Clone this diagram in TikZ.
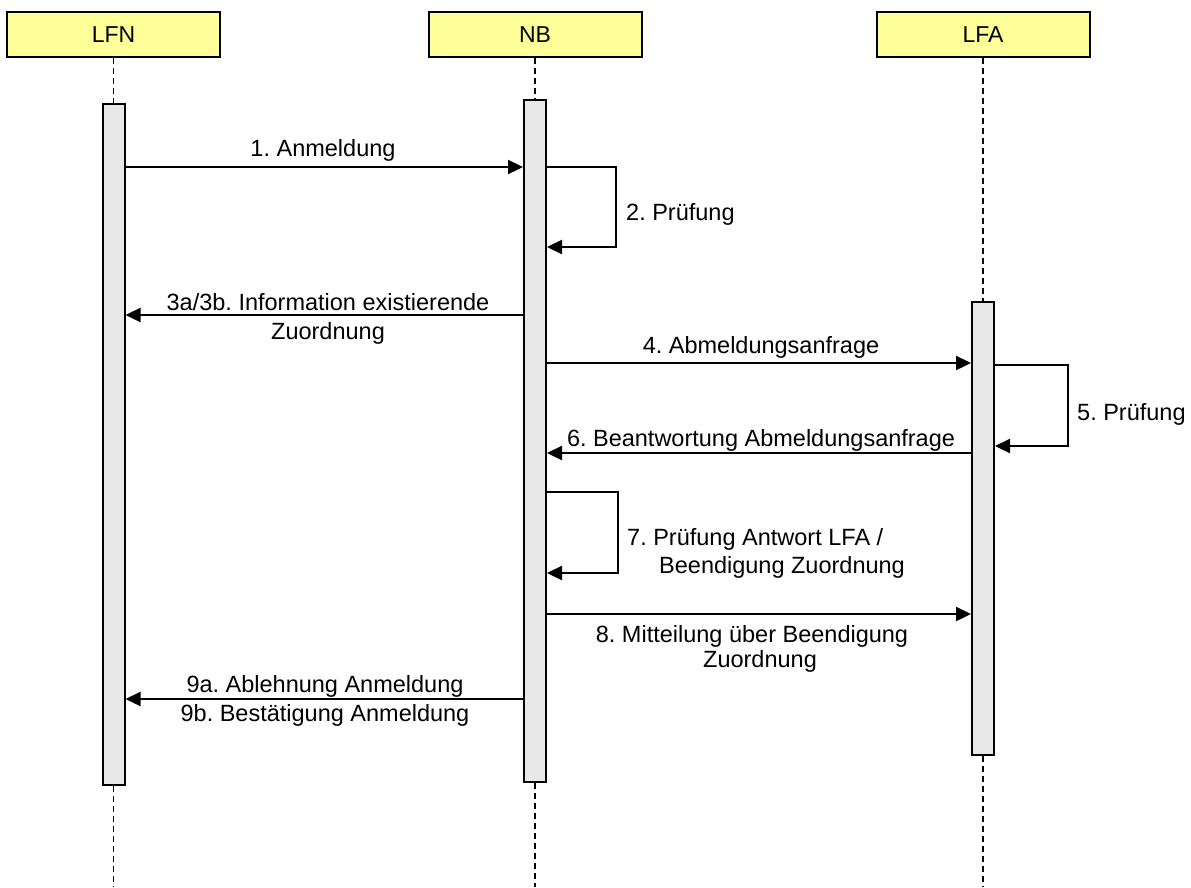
\documentclass[tikz,border=0pt]{standalone}
\usepackage{fontspec}
\setmainfont{Liberation Sans}
\usetikzlibrary{arrows.meta}
\definecolor{headyellow}{HTML}{FFFF99}
\definecolor{bargrey}{HTML}{E8E8E8}
\frenchspacing
\begin{document}
\begin{tikzpicture}[x=1pt,y=-1pt,
  head/.style={draw=black, line width=2pt, fill=headyellow, minimum width=213pt, minimum height=45pt, inner sep=0pt, font=\fontsize{23pt}{27pt}\selectfont},
  actbar/.style={draw=black, line width=2pt, fill=bargrey, minimum width=22pt, inner sep=0pt},
  life/.style={line width=1.8pt, dash pattern=on 6pt off 4pt},
  msg/.style={line width=2.3pt, -{Triangle[length=15pt,width=14pt]}},
  lbl/.style={font=\fontsize{23.5pt}{28pt}\selectfont, inner sep=0pt}
]
\useasboundingbox (0,0) rectangle (1191,887);
% headers
\node[head] (lfn) at (113.5,34.5) {LFN};
\node[head] (nb) at (535,34.5) {NB};
\node[head] (lfa) at (983,34.5) {LFA};
% bottom ends of lifelines
\coordinate (lfnend) at (113.5,887);
\coordinate (nbend) at (535,887);
\coordinate (lfaend) at (983,887);
% activation bars
\node[actbar, minimum height=681pt] (lfnbar) at (113.5,444.5) {};
\node[actbar, minimum height=682pt] (nbbar) at (535,441) {};
\node[actbar, minimum height=453pt] (lfabar) at (983,528.5) {};
% lifelines
\draw[life] (lfn.south) -- (lfnbar.north);
\draw[life] (lfnbar.south) -- (lfnend);
\draw[life] (nb.south) -- (nbbar.north);
\draw[life] (nbbar.south) -- (nbend);
\draw[life] (lfa.south) -- (lfabar.north);
\draw[life] (lfabar.south) -- (lfaend);
% messages
\draw[msg] (lfnbar.east |- 0,167) -- (nbbar.west |- 0,167);
\node[lbl, anchor=base] (t1) at (323,156) {1. Anmeldung};
\draw[msg] (nbbar.east |- 0,167) -- (616,167) -- (616,247) -- (nbbar.east |- 0,247);
\node[lbl, anchor=base west] (t2) at (626,220) {2. Prüfung};
\draw[msg] (nbbar.west |- 0,315) -- (lfnbar.east |- 0,315);
\node[lbl, anchor=base] (t3a) at (328,310) {3a/3b. Information existierende};
\node[lbl, anchor=base] (t3b) at (328,339) {Zuordnung};
\draw[msg] (nbbar.east |- 0,363) -- (lfabar.west |- 0,363);
\node[lbl, anchor=base] (t4) at (761,353) {4. Abmeldungsanfrage};
\draw[msg] (lfabar.east |- 0,365) -- (1068,365) -- (1068,446) -- (lfabar.east |- 0,446);
\node[lbl, anchor=base west] (t5) at (1077,420) {5. Prüfung};
\draw[msg] (lfabar.west |- 0,453) -- (nbbar.east |- 0,453);
\node[lbl, anchor=base] (t6) at (761,446) {6. Beantwortung Abmeldungsanfrage};
\draw[msg] (nbbar.east |- 0,492) -- (618,492) -- (618,573) -- (nbbar.east |- 0,573);
\node[lbl, anchor=base west] (t7a) at (627,545) {7. Prüfung Antwort LFA /};
\node[lbl, anchor=base west] (t7b) at (659,573) {Beendigung Zuordnung};
\draw[msg] (nbbar.east |- 0,614) -- (lfabar.west |- 0,614);
\node[lbl, anchor=base] (t8a) at (752,642) {8. Mitteilung über Beendigung};
\node[lbl, anchor=base] (t8b) at (760,667) {Zuordnung};
\draw[msg] (nbbar.west |- 0,699) -- (lfnbar.east |- 0,699);
\node[lbl, anchor=base] (t9a) at (325,692) {9a. Ablehnung Anmeldung};
\node[lbl, anchor=base] (t9b) at (325,721) {9b. Bestätigung Anmeldung};
\end{tikzpicture}
\end{document}
